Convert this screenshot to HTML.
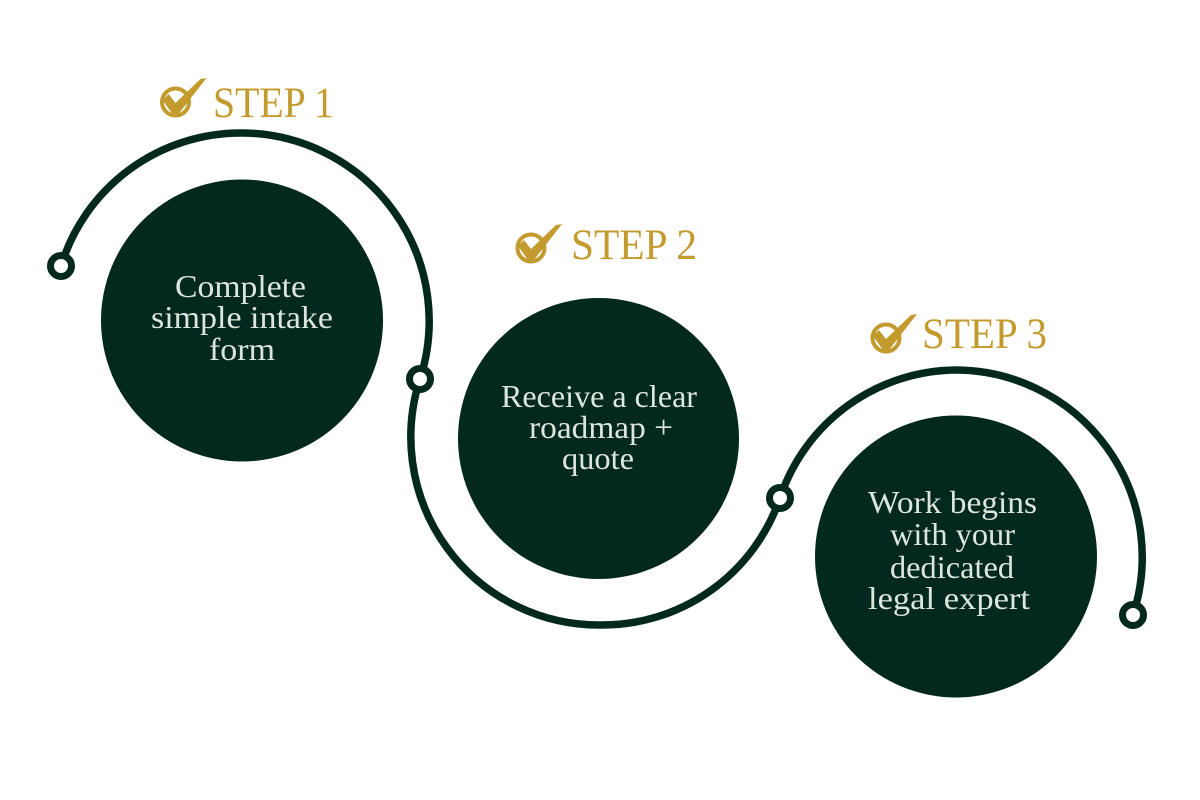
<!DOCTYPE html>
<html>
<head>
<meta charset="utf-8">
<style>
  html, body { margin:0; padding:0; background:#ffffff; }
  body { width:1200px; height:800px; overflow:hidden; }
  svg { display:block; }
  .step { font-family:"Liberation Serif", serif; font-size:43px; fill:#c39a2e; }
  .body { font-family:"Liberation Serif", serif; font-size:32px; fill:#dde6de; }
</style>
</head>
<body>
<svg width="1200" height="800" viewBox="0 0 1200 800" xmlns="http://www.w3.org/2000/svg">
  <rect width="1200" height="800" fill="#ffffff"/>

  <!-- big circles -->
  <circle cx="242" cy="320.5" r="141" fill="#03291e"/>
  <circle cx="598.5" cy="438.5" r="140.5" fill="#03291e"/>
  <circle cx="956" cy="556.5" r="141" fill="#03291e"/>

  <!-- connecting arcs -->
  <g fill="none" stroke="#03291e" stroke-width="7.5" stroke-linecap="round">
    <path d="M61,266 A188,188 0 0 1 242,133 A188,188 0 0 1 420,379"/>
    <path d="M420,379 A188,188 0 0 0 599,625 A188,188 0 0 0 780,498"/>
    <path d="M780,498 A187,187 0 0 1 956,370 A187,187 0 0 1 1133,615"/>
  </g>

  <!-- dots -->
  <g fill="#ffffff" stroke="#03291e" stroke-width="7">
    <circle cx="61" cy="266" r="10.5"/>
    <circle cx="420" cy="379" r="10.5"/>
    <circle cx="780" cy="498" r="10.5"/>
    <circle cx="1133" cy="615" r="10.5"/>
  </g>

  <!-- check icons -->
  <g transform="translate(175.5,102)">
    <circle cx="0" cy="0" r="13.5" fill="none" stroke="#c39a2e" stroke-width="4"/>
    <polygon points="-13,-2 -7,-8 0,1 25,-23 31,-24 3,12 -3,12" fill="#c39a2e"/>
  </g>
  <g transform="translate(531,248)">
    <circle cx="0" cy="0" r="13.5" fill="none" stroke="#c39a2e" stroke-width="4"/>
    <polygon points="-13,-2 -7,-8 0,1 25,-23 31,-24 3,12 -3,12" fill="#c39a2e"/>
  </g>
  <g transform="translate(886,338)">
    <circle cx="0" cy="0" r="13.5" fill="none" stroke="#c39a2e" stroke-width="4"/>
    <polygon points="-13,-2 -7,-8 0,1 25,-23 31,-24 3,12 -3,12" fill="#c39a2e"/>
  </g>

  <!-- step labels -->
  <text class="step" x="213" y="117" textLength="121" lengthAdjust="spacingAndGlyphs">STEP 1</text>
  <text class="step" x="571" y="259" textLength="126" lengthAdjust="spacingAndGlyphs">STEP 2</text>
  <text class="step" x="922" y="348" textLength="125" lengthAdjust="spacingAndGlyphs">STEP 3</text>

  <!-- circle 1 text -->
  <text class="body" x="175" y="297" textLength="131" lengthAdjust="spacingAndGlyphs">Complete</text>
  <text class="body" x="151" y="328" textLength="182" lengthAdjust="spacingAndGlyphs">simple intake</text>
  <text class="body" x="209" y="360" textLength="66" lengthAdjust="spacingAndGlyphs">form</text>

  <!-- circle 2 text -->
  <text class="body" x="501" y="407" textLength="196" lengthAdjust="spacingAndGlyphs">Receive a clear</text>
  <text class="body" x="529" y="438" textLength="144" lengthAdjust="spacingAndGlyphs">roadmap +</text>
  <text class="body" x="562" y="469" textLength="72" lengthAdjust="spacingAndGlyphs">quote</text>

  <!-- circle 3 text -->
  <text class="body" x="868" y="513" textLength="169" lengthAdjust="spacingAndGlyphs">Work begins</text>
  <text class="body" x="890" y="545" textLength="125" lengthAdjust="spacingAndGlyphs">with your</text>
  <text class="body" x="890" y="578" textLength="124" lengthAdjust="spacingAndGlyphs">dedicated</text>
  <text class="body" x="868" y="609" textLength="162" lengthAdjust="spacingAndGlyphs">legal expert</text>
</svg>
</body>
</html>
